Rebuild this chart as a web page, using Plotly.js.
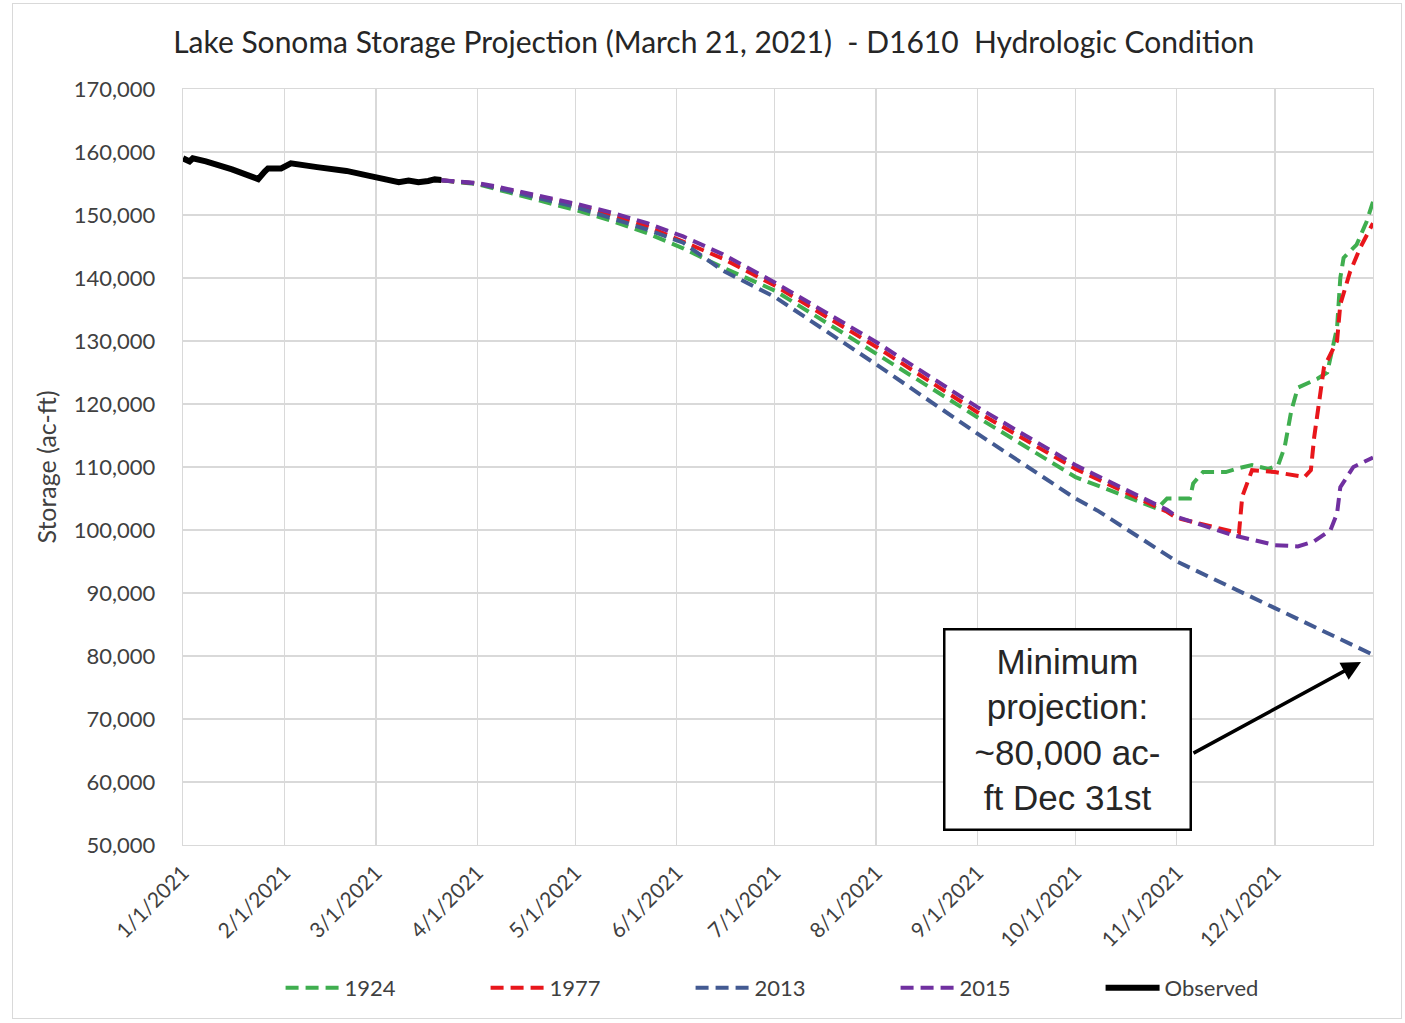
<!DOCTYPE html>
<html>
<head>
<meta charset="utf-8">
<script src="https://cdn.plot.ly/plotly-3.0.1.min.js"></script>
<style>
  html, body { margin: 0; padding: 0; background: #fff; }
  #frame { position: absolute; left: 12px; top: 3px; width: 1390px; height: 1016px; border: 1px solid #d9d9d9; box-sizing: border-box; pointer-events: none; z-index: 5; }
  #chart { position: absolute; left: 0; top: 0; width: 1405px; height: 1023px; }
</style>
</head>
<body>
<div id="chart"></div>
<div id="frame"></div>
<script>
// ---- Data ----
const obsDates = ['2021-01-01','2021-01-03','2021-01-04','2021-01-08','2021-01-16','2021-01-24','2021-01-26','2021-01-27','2021-01-31','2021-02-03','2021-02-11','2021-02-20','2021-02-27','2021-03-08','2021-03-11','2021-03-14','2021-03-17','2021-03-19','2021-03-21'];
const obsValues = [159000,158500,159000,158500,157250,155700,156900,157400,157400,158200,157600,157000,156200,155200,155450,155200,155400,155650,155550];

const d1924 = ['2021-03-21','2021-04-01','2021-05-01','2021-05-12','2021-05-23','2021-06-03','2021-06-15','2021-07-01','2021-08-01','2021-09-01','2021-10-01','2021-10-18','2021-10-26','2021-10-29','2021-11-05','2021-11-06','2021-11-09','2021-11-16','2021-11-19','2021-11-24','2021-11-29','2021-12-02','2021-12-04','2021-12-06','2021-12-08','2021-12-14','2021-12-17','2021-12-20','2021-12-21','2021-12-22','2021-12-26','2021-12-29','2021-12-31'];
const v1924 = [155500,154900,150800,149100,147100,144700,141700,138000,128000,117900,108400,105000,103400,105000,105000,107400,109200,109200,109700,110300,109700,110300,113200,118900,122600,124000,125000,132100,140000,143200,145300,148900,152100];

const d1977 = ['2021-03-21','2021-04-01','2021-05-01','2021-05-23','2021-06-15','2021-07-01','2021-08-01','2021-09-01','2021-10-01','2021-10-29','2021-11-01','2021-11-18','2021-11-20','2021-11-21','2021-11-24','2021-12-01','2021-12-10','2021-12-12','2021-12-13','2021-12-15','2021-12-16','2021-12-20','2021-12-21','2021-12-24','2021-12-27','2021-12-31'];
const v1977 = [155500,155000,151600,148200,143100,138800,129100,118700,109700,102900,101900,99800,99500,105300,109500,109200,108400,109500,114700,122100,125800,130000,135800,141000,144700,148700];

const d2013 = ['2021-03-21','2021-04-01','2021-05-01','2021-05-23','2021-06-03','2021-06-15','2021-07-01','2021-08-01','2021-09-01','2021-10-01','2021-10-08','2021-10-27','2021-11-01','2021-12-01','2021-12-31'];
const v2013 = [155500,155000,151300,147700,145600,141200,137000,126300,115300,105000,103000,96600,95000,87600,80200];

const d2015 = ['2021-03-21','2021-04-01','2021-04-07','2021-04-18','2021-05-01','2021-05-12','2021-05-23','2021-06-03','2021-06-15','2021-07-01','2021-08-01','2021-09-01','2021-10-01','2021-10-29','2021-11-01','2021-11-18','2021-12-01','2021-12-08','2021-12-13','2021-12-18','2021-12-20','2021-12-21','2021-12-25','2021-12-31'];
const v2015 = [155500,155100,154500,153300,151800,150400,148700,146600,143800,139300,129850,119500,110300,103200,102100,99200,97600,97400,98200,100000,102600,106800,110000,111500];

const tickDates = ['2021-01-01','2021-02-01','2021-03-01','2021-04-01','2021-05-01','2021-06-01','2021-07-01','2021-08-01','2021-09-01','2021-10-01','2021-11-01','2021-12-01'];
const tickLabels = ['1/1/2021','2/1/2021','3/1/2021','4/1/2021','5/1/2021','6/1/2021','7/1/2021','8/1/2021','9/1/2021','10/1/2021','11/1/2021','12/1/2021'];

const seriesNames = ['1924','1977','2013','2015','Observed'];

// ---- Styles ----
const dashPat = '13px,7px';
const font = 'Lato, "Open Sans", sans-serif';

const traces = [
  {x: d1924, y: v1924, name: seriesNames[0], mode: 'lines', line: {color: '#3fae4f', width: 4, dash: dashPat}},
  {x: d1977, y: v1977, name: seriesNames[1], mode: 'lines', line: {color: '#e8161b', width: 4, dash: dashPat}},
  {x: d2013, y: v2013, name: seriesNames[2], mode: 'lines', line: {color: '#435a92', width: 4, dash: dashPat}},
  {x: d2015, y: v2015, name: seriesNames[3], mode: 'lines', line: {color: '#7030a0', width: 4, dash: dashPat}},
  {x: obsDates, y: obsValues, name: seriesNames[4], mode: 'lines', line: {color: '#000000', width: 6}}
];

const layout = {
  width: 1405, height: 1023,
  margin: {l: 183, r: 32, t: 89, b: 178, autoexpand: false},
  paper_bgcolor: 'rgba(0,0,0,0)', plot_bgcolor: '#ffffff',
  font: {family: font, color: '#404040', size: 20},
  title: {text: 'Lake Sonoma Storage Projection (March 21, 2021)  - D1610  Hydrologic Condition',
          font: {family: font, size: 30, color: '#262626'}, x: 0.508, xref: 'container', xanchor: 'center', y: 0.958, yref: 'container', yanchor: 'middle'},
  xaxis: {
    type: 'date', range: ['2021-01-01', '2021-12-31'],
    tickvals: tickDates, ticktext: tickLabels, tickangle: -45,
    showgrid: true, gridcolor: '#d9d9d9', gridwidth: 1.3,
    showline: true, linecolor: '#d9d9d9', linewidth: 1.3, mirror: true,
    ticks: '', ticklabelstandoff: 6, tickfont: {size: 21, color: '#404040', family: font}, zeroline: false, automargin: false
  },
  yaxis: {
    range: [50000, 170000], dtick: 10000, tickformat: ',',
    showgrid: true, gridcolor: '#d9d9d9', gridwidth: 1.3,
    showline: true, linecolor: '#d9d9d9', linewidth: 1.3, mirror: true,
    ticks: '', ticklabelstandoff: 22, tickfont: {size: 22, color: '#404040', family: font},
    title: {text: 'Storage (ac-ft)', font: {size: 25, color: '#404040', family: font}, standoff: 10},
    zeroline: false, automargin: false
  },
  showlegend: true,
  legend: {orientation: 'h', x: 0.082, xanchor: 'left', y: -0.189, yanchor: 'middle',
           entrywidth: 136, entrywidthmode: 'pixels', itemwidth: 54,
           font: {size: 22, color: '#404040', family: font}, bgcolor: 'rgba(0,0,0,0)'},
  annotations: [
    {xref: 'paper', yref: 'paper', x: 0.7429, y: 0.1528, xanchor: 'center', yanchor: 'middle',
     text: 'Minimum<br>projection:<br>~80,000 ac-<br>ft Dec 31st', showarrow: false,
     font: {family: '"Liberation Sans", Arial, sans-serif', size: 35, color: '#262626'},
     align: 'center', bgcolor: '#ffffff', bordercolor: '#000000', borderwidth: 2.5,
     width: 240, height: 194, borderpad: 2},
    {xref: 'paper', yref: 'paper', x: 0.9899, y: 0.2421, ax: -169, ay: 92, axref: 'pixel', ayref: 'pixel',
     text: '', showarrow: true, arrowhead: 2, arrowsize: 1.1, arrowwidth: 3.5, arrowcolor: '#000000', standoff: 0}
  ]
};

Plotly.newPlot('chart', traces, layout, {displayModeBar: false, staticPlot: true});
</script>
</body>
</html>
